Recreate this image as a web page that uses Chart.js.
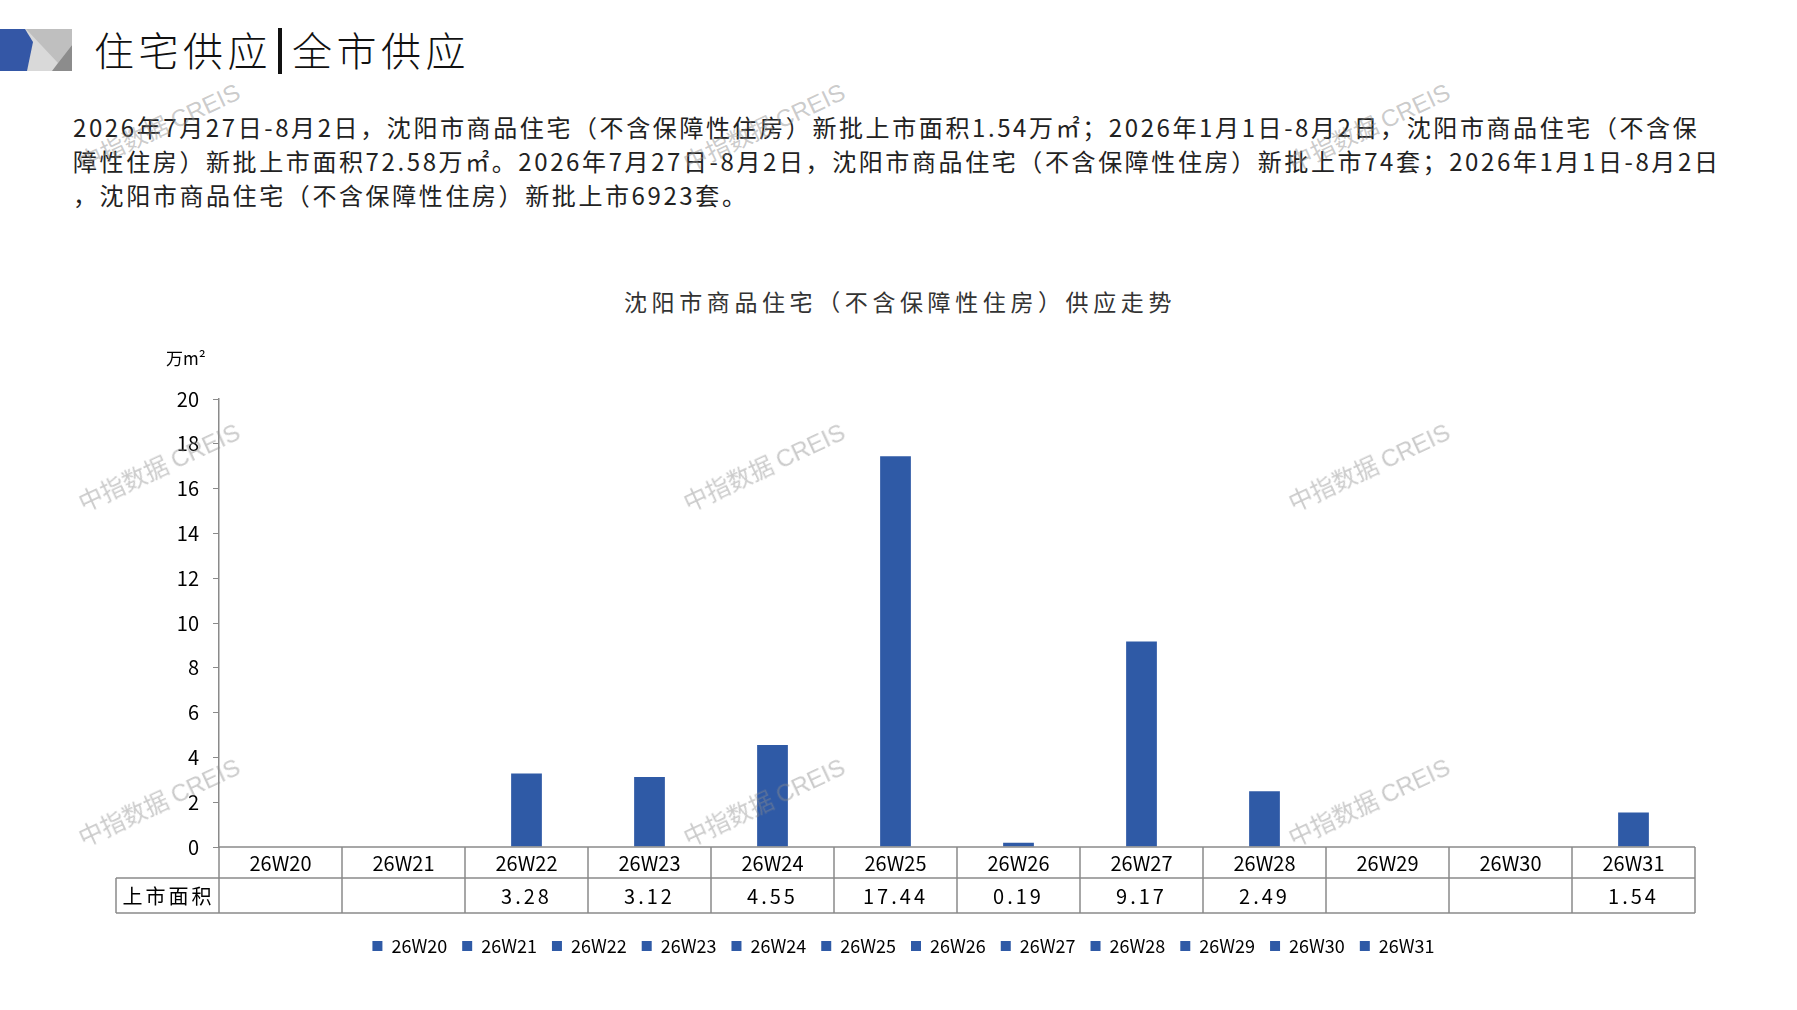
<!DOCTYPE html>
<html>
<head>
<meta charset="utf-8">
<script src="https://cdn.jsdelivr.net/npm/chart.js@4/dist/chart.umd.min.js"></script>
<style>
  body { margin: 0; background: #fff; }
  #page { position: relative; width: 1797px; height: 1010px; overflow: hidden; font-family: "Noto Sans CJK SC", sans-serif; }
  #icon { position: absolute; left: 0; top: 29px; }
  #title { position: absolute; left: 94px; top: 20px; font-size: 40px; color: #111; letter-spacing: 4.5px; font-weight: 300; }
  #title .bar { display: inline-block; width: 4px; height: 46px; background: #111; vertical-align: -8px; margin: 0 10px 0 6px; }
  #para { position: absolute; left: 73px; top: 110px; font-size: 24px; line-height: 34px; color: #222; white-space: nowrap; letter-spacing: 2.6px; }
  #ctitle { position: absolute; left: 900px; top: 284px; transform: translateX(-50%); font-size: 23px; letter-spacing: 4.6px; color: #333; white-space: nowrap; }
  #cv { position: absolute; left: 0; top: 285px; }
  .wm { position: absolute; font-size: 24px; color: rgba(140,140,140,0.45); transform: rotate(-25deg); white-space: nowrap; pointer-events: none; }
  .wm span { font-family: "Liberation Sans", sans-serif; }
</style>
</head>
<body>
<div id="page">
  <svg id="icon" width="72" height="42" viewBox="0 0 72 42">
    <rect x="0" y="0" width="72" height="42" fill="#d9d9d9"/>
    <polygon points="26,0 72,0 72,16 58,34" fill="#bfbfbf"/>
    <polygon points="72,16 72,42 52,42 58,34" fill="#8c8c8c"/>
    <polygon points="0,0 25,0 33,13 27,42 0,42" fill="#3457a6"/>
  </svg>
  <div id="title">住宅供应<span class="bar"></span>全市供应</div>
  <div id="para">2026年7月27日-8月2日，沈阳市商品住宅（不含保障性住房）新批上市面积1.54万㎡；2026年1月1日-8月2日，沈阳市商品住宅（不含保<br>障性住房）新批上市面积72.58万㎡。2026年7月27日-8月2日，沈阳市商品住宅（不含保障性住房）新批上市74套；2026年1月1日-8月2日<br>，沈阳市商品住宅（不含保障性住房）新批上市6923套。</div>
  <div id="ctitle">沈阳市商品住宅（不含保障性住房）供应走势</div>
  <canvas id="cv" width="1797" height="682"></canvas>
</div>
<script>
// weekly supply data, 万㎡
var weeks = ["26W20", "26W21", "26W22", "26W23", "26W24", "26W25", "26W26", "26W27", "26W28", "26W29", "26W30", "26W31"];
var supplyArea = [null, null, 3.28, 3.12, 4.55, 17.44, 0.19, 9.17, 2.49, null, null, 1.54];
var rowLabel = "上市面积";
var yTicks = [0, 2, 4, 6, 8, 10, 12, 14, 16, 18, 20];

var barColor = "#2f5aa6";
var cjk = '"Noto Sans CJK SC", sans-serif';

// watermarks
var wmPos = [[71, 108], [676, 108], [1281, 108], [71, 448], [676, 448], [1281, 448], [71, 783], [676, 783], [1281, 783]];
wmPos.forEach(function (p) {
  var d = document.createElement("div");
  d.className = "wm";
  d.style.left = p[0] + "px";
  d.style.top = p[1] + "px";
  d.innerHTML = "中指数据 <span>CREIS</span>";
  document.getElementById("page").appendChild(d);
});

// draws the data table under the plot + unit label
var tablePlugin = {
  id: "dataTable",
  afterDraw: function (chart) {
    var ctx = chart.ctx;
    var x = chart.scales.x;
    var area = chart.chartArea;
    var top = area.bottom;
    var h1 = 31, h2 = 35;
    var labelLeft = 116;
    var w = (area.right - area.left) / weeks.length;

    ctx.save();
    ctx.strokeStyle = "#8a8a8a";
    ctx.lineWidth = 1.5;
    ctx.beginPath();
    ctx.moveTo(area.left, top); ctx.lineTo(area.right, top);
    ctx.moveTo(labelLeft, top + h1); ctx.lineTo(area.right, top + h1);
    ctx.moveTo(labelLeft, top + h1 + h2); ctx.lineTo(area.right, top + h1 + h2);
    ctx.moveTo(labelLeft, top + h1); ctx.lineTo(labelLeft, top + h1 + h2);
    for (var i = 0; i <= weeks.length; i++) {
      var bx = area.left + i * w;
      ctx.moveTo(bx, top); ctx.lineTo(bx, top + h1 + h2);
    }
    ctx.stroke();

    ctx.fillStyle = "#000";
    ctx.textAlign = "center";
    ctx.textBaseline = "middle";
    ctx.font = "20px " + cjk;
    weeks.forEach(function (wk, i) {
      var cx = x.getPixelForValue(i);
      ctx.fillText(wk, cx, top + h1 / 2 + 1);
      if (supplyArea[i] != null) {
        ctx.letterSpacing = "3px";
        ctx.fillText(supplyArea[i].toFixed(2), cx, top + h1 + h2 / 2 + 1);
        ctx.letterSpacing = "0px";
      }
    });
    ctx.letterSpacing = "3px";
    ctx.fillText(rowLabel, (labelLeft + area.left) / 2 + 1, top + h1 + h2 / 2 + 1);
    ctx.letterSpacing = "0px";

    // unit
    ctx.font = "17px " + cjk;
    ctx.textAlign = "left";
    ctx.fillText("万m²", 166, area.top - 40);
    ctx.restore();
  }
};

var ctx = document.getElementById("cv").getContext("2d");
var chart = new Chart(ctx, {
  type: "bar",
  data: {
    labels: weeks,
    datasets: [{
      label: rowLabel,
      data: supplyArea,
      backgroundColor: barColor,
      categoryPercentage: 1,
      barPercentage: 0.25
    }]
  },
  options: {
    responsive: false,
    animation: false,
    layout: { padding: { left: 112, right: 102, top: 114, bottom: 2 } },
    plugins: {
      legend: {
        position: "bottom",
        labels: {
          boxWidth: 10,
          boxHeight: 10,
          padding: 15,
          color: "#000",
          font: { family: cjk, size: 18 },
          generateLabels: function () {
            return weeks.map(function (wk) {
              return { text: wk, fillStyle: barColor, strokeStyle: barColor, lineWidth: 0 };
            });
          }
        }
      },
      tooltip: { enabled: false }
    },
    scales: {
      x: {
        grid: { display: false },
        border: { display: false },
        ticks: { display: false },
        afterFit: function (s) { s.height = 75; }
      },
      y: {
        min: 0,
        max: 20,
        afterBuildTicks: function (s) { s.ticks = yTicks.map(function (v) { return { value: v }; }); },
        grid: { drawOnChartArea: false, drawTicks: true, tickLength: 6, color: "#8a8a8a" },
        border: { color: "#8a8a8a", width: 1.5 },
        ticks: { color: "#000", font: { family: cjk, size: 20 }, padding: 14 },
        afterFit: function (s) { s.width = 107; }
      }
    }
  },
  plugins: [tablePlugin]
});
</script>
</body>
</html>
